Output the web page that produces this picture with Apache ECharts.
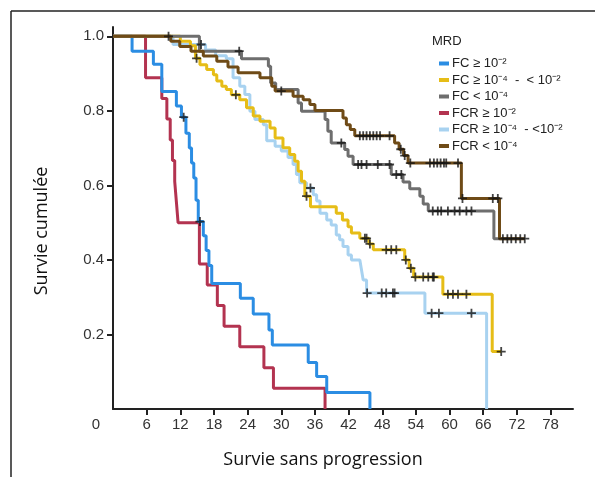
<!DOCTYPE html>
<html><head><meta charset="utf-8">
<script src="https://cdn.jsdelivr.net/npm/echarts@6/dist/echarts.min.js"></script>
<style>html,body{margin:0;padding:0;background:#fff}#c{width:595px;height:477px}</style>
</head><body><div id="c"></div>
<script>
// ---- axis ticks ----
const xTickValues = [0, 6, 12, 18, 24, 30, 36, 42, 48, 54, 60, 66, 72, 78];
const yTickValues = [0.2, 0.4, 0.6, 0.8, 1.0];

// ---- series names ----
const nameFcHigh = 'FC ≥ 10⁻²';
const nameFcMid = 'FC ≥ 10⁻⁴  -  < 10⁻²';
const nameFcLow = 'FC < 10⁻⁴';
const nameFcrHigh = 'FCR ≥ 10⁻²';
const nameFcrMid = 'FCR ≥ 10⁻⁴  - <10⁻²';
const nameFcrLow = 'FCR < 10⁻⁴';

// ---- Kaplan-Meier steps (time in months, cumulative survival) ----
const fcHighT = [0, 3.4, 7.2, 8.7, 11.3, 12.2, 13.0, 13.6, 14.0, 14.4, 14.8, 15.2, 16.1, 16.6, 17.1, 17.6, 22.7, 25.0, 27.8, 28.4, 34.8, 36.3, 38.1, 45.8];
const fcHighS = [1, 0.960, 0.925, 0.852, 0.813, 0.783, 0.740, 0.700, 0.660, 0.620, 0.560, 0.503, 0.465, 0.425, 0.385, 0.337, 0.297, 0.255, 0.212, 0.172, 0.125, 0.087, 0.044, 0];
const fcHighCensT = [12.6, 15.5];
const fcHighCensS = [0.783, 0.503];

const fcMidT = [0, 12.0, 13.8, 14.7, 15.5, 16.7, 17.9, 18.5, 19.4, 20.2, 21.1, 22.6, 23.8, 25.0, 26.2, 28.0, 28.9, 30.3, 31.5, 32.4, 33.0, 33.6, 34.2, 35.2, 39.8, 40.9, 41.9, 42.5, 44.0, 45.6, 46.4, 52.0, 52.8, 53.6, 58.8, 67.6, 69.2];
const fcMidS = [1, 0.987, 0.975, 0.941, 0.924, 0.911, 0.897, 0.880, 0.866, 0.857, 0.843, 0.830, 0.808, 0.786, 0.772, 0.754, 0.727, 0.701, 0.683, 0.665, 0.638, 0.611, 0.571, 0.543, 0.525, 0.507, 0.489, 0.472, 0.458, 0.443, 0.427, 0.400, 0.378, 0.354, 0.308, 0.154, 0.154];
const fcMidCensT = [14.9, 21.9, 34.5, 44.9, 45.2, 45.8, 48.7, 49.6, 50.5, 52.2, 53.1, 53.9, 55.3, 56.2, 57.0, 57.2, 59.7, 60.6, 61.5, 63.0, 69.2];
const fcMidCensS = [0.941, 0.843, 0.571, 0.458, 0.458, 0.443, 0.427, 0.427, 0.427, 0.400, 0.378, 0.354, 0.354, 0.354, 0.354, 0.354, 0.308, 0.308, 0.308, 0.308, 0.154];

const fcLowT = [0, 15.4, 22.9, 27.7, 28.1, 29.0, 33.0, 33.6, 37.8, 38.3, 38.9, 41.3, 41.9, 42.8, 49.6, 51.7, 52.9, 54.7, 55.3, 56.2, 67.9, 72.5];
const fcLowS = [1, 0.960, 0.940, 0.920, 0.875, 0.857, 0.821, 0.799, 0.777, 0.745, 0.714, 0.696, 0.678, 0.656, 0.629, 0.609, 0.591, 0.571, 0.550, 0.531, 0.457, 0.457];
const fcLowCensT = [22.5, 40.7, 43.7, 44.3, 45.2, 47.2, 49.3, 50.5, 51.4, 57.0, 57.9, 58.5, 59.7, 60.9, 61.8, 63.0, 63.9];
const fcLowCensS = [0.960, 0.714, 0.656, 0.656, 0.656, 0.656, 0.656, 0.629, 0.629, 0.531, 0.531, 0.531, 0.531, 0.531, 0.531, 0.531, 0.531];

const fcrHighT = [0, 5.8, 8.7, 9.6, 10.2, 10.6, 11.0, 11.3, 11.6, 15.4, 16.8, 18.6, 19.8, 22.6, 26.9, 28.6, 37.8];
const fcrHighS = [1, 0.889, 0.833, 0.778, 0.722, 0.667, 0.611, 0.556, 0.500, 0.389, 0.333, 0.278, 0.222, 0.167, 0.111, 0.056, 0];

const fcrMidT = [0, 10.7, 16.5, 18.3, 20.2, 21.4, 22.6, 23.5, 24.4, 25.3, 26.8, 27.4, 28.9, 30.0, 31.2, 32.1, 32.7, 33.3, 34.5, 35.7, 36.3, 36.9, 38.1, 38.9, 39.8, 40.4, 41.0, 41.9, 42.5, 44.0, 44.3, 44.6, 45.2, 55.6, 66.6];
const fcrMidS = [1, 0.978, 0.963, 0.948, 0.940, 0.889, 0.866, 0.844, 0.799, 0.777, 0.763, 0.720, 0.705, 0.692, 0.675, 0.656, 0.629, 0.607, 0.593, 0.575, 0.558, 0.525, 0.507, 0.494, 0.467, 0.454, 0.436, 0.413, 0.400, 0.395, 0.373, 0.346, 0.311, 0.257, 0];
const fcrMidCensT = [15.7, 35.2, 45.3, 47.9, 48.7, 49.9, 50.2, 56.8, 58.1, 63.9];
const fcrMidCensS = [0.978, 0.593, 0.311, 0.311, 0.311, 0.311, 0.311, 0.257, 0.257, 0.257];

const fcrLowT = [0, 10.3, 11.9, 13.9, 16.1, 18.5, 20.5, 22.3, 26.2, 28.3, 28.9, 32.1, 33.9, 35.1, 36.0, 41.0, 41.6, 42.3, 43.1, 50.2, 51.0, 51.8, 52.6, 62.1, 68.9, 73.4];
const fcrLowS = [1, 0.987, 0.973, 0.960, 0.947, 0.933, 0.918, 0.902, 0.889, 0.866, 0.853, 0.839, 0.830, 0.817, 0.801, 0.781, 0.763, 0.750, 0.733, 0.714, 0.697, 0.680, 0.660, 0.565, 0.457, 0.457];
const fcrLowCensT = [9.9, 30.0, 44.0, 44.6, 45.2, 45.8, 46.4, 47.0, 47.6, 49.3, 51.3, 52.0, 53.0, 56.5, 57.2, 57.8, 58.4, 59.0, 59.4, 61.5, 62.3, 67.7, 68.6, 69.5, 70.3, 71.0, 71.8, 72.6, 73.4];
const fcrLowCensS = [1.0, 0.853, 0.733, 0.733, 0.733, 0.733, 0.733, 0.733, 0.733, 0.733, 0.697, 0.680, 0.660, 0.660, 0.660, 0.660, 0.660, 0.660, 0.660, 0.660, 0.565, 0.565, 0.565, 0.457, 0.457, 0.457, 0.457, 0.457, 0.457];

// ---- colours ----
const colBlue = '#2b8de3';
const colYellow = '#e6bd17';
const colGray = '#6e6e6e';
const colRed = '#b33350';
const colLightBlue = '#a8d2f0';
const colBrown = '#6f4b17';

const zip = (t, s) => t.map((v, i) => [v, s[i]]);
const plusPath = 'path://M4,0H6V4H10V6H6V10H4V6H0V4H4Z';

function kmLine(name, t, s, color, z) {
  return { type: 'line', name, data: zip(t, s), step: 'end', symbol: 'none', color,
    lineStyle: { color, width: 3 }, z, silent: true, animation: false };
}
function censors(name, t, s) {
  return { type: 'scatter', name, data: zip(t, s), symbol: plusPath, symbolSize: 9,
    itemStyle: { color: '#151515' }, z: 20, silent: true, animation: false };
}

const labelFont = 'Liberation Sans, Arial, sans-serif';
const chart = echarts.init(document.getElementById('c'), null, { renderer: 'canvas' });
chart.setOption({
  backgroundColor: '#fff',
  animation: false,
  grid: { left: 113, right: 22, top: 27, bottom: 68, containLabel: false, outerBoundsMode: 'none' },
  xAxis: {
    type: 'value', min: 0, max: 82,
    axisLine: { show: true, lineStyle: { color: '#222', width: 2 } },
    axisTick: { show: true, customValues: xTickValues.filter(v => v > 0), length: 6, lineStyle: { color: '#222', width: 2 } },
    axisLabel: {
      customValues: xTickValues, margin: 8, color: '#333', fontSize: 15, fontFamily: labelFont,
      formatter: v => v === 0 ? '{o|0}' : String(v),
      rich: { o: { padding: [0, 34, 0, 0], color: '#333', fontSize: 15, fontFamily: labelFont } }
    },
    splitLine: { show: false }
  },
  yAxis: {
    type: 'value', min: 0, max: 1.025,
    axisLine: { show: true, lineStyle: { color: '#222', width: 2 } },
    axisTick: { show: true, customValues: yTickValues, length: 6, lineStyle: { color: '#222', width: 2 } },
    axisLabel: { customValues: yTickValues, margin: 9, color: '#333', fontSize: 15, fontFamily: labelFont,
      formatter: v => v.toFixed(1) },
    splitLine: { show: false }
  },
  legend: {
    data: [nameFcHigh, nameFcMid, nameFcLow, nameFcrHigh, nameFcrMid, nameFcrLow],
    orient: 'vertical', left: 434, top: 52, itemWidth: 10, itemHeight: 4, itemGap: 3.5,
    icon: 'rect', selectedMode: false,
    textStyle: { color: '#222', fontSize: 13, fontFamily: labelFont, padding: [0, 0, 0, -2] }
  },
  graphic: [
    { type: 'text', left: 432, top: 35, style: { text: 'MRD', fontSize: 13, fill: '#222', fontFamily: labelFont } },
    { type: 'text', x: 323, y: 460, style: { text: 'Survie sans progression', fontSize: 18, fill: '#111',
        fontFamily: 'Open Sans, Noto Sans, sans-serif', align: 'center', verticalAlign: 'middle' } },
    { type: 'text', x: 42, y: 231, rotation: Math.PI / 2, style: { text: 'Survie cumulée', fontSize: 18, fill: '#111',
        fontFamily: 'Open Sans, Noto Sans, sans-serif', align: 'center', verticalAlign: 'middle' } },
    { type: 'line', shape: { x1: 11, y1: 11, x2: 595, y2: 11 }, style: { stroke: '#222', lineWidth: 1.5 } },
    { type: 'line', shape: { x1: 11, y1: 11, x2: 11, y2: 477 }, style: { stroke: '#222', lineWidth: 1.5 } }
  ],
  series: [
    kmLine(nameFcrHigh, fcrHighT, fcrHighS, colRed, 2),
    kmLine(nameFcHigh, fcHighT, fcHighS, colBlue, 3),
    kmLine(nameFcrMid, fcrMidT, fcrMidS, colLightBlue, 4),
    kmLine(nameFcMid, fcMidT, fcMidS, colYellow, 5),
    kmLine(nameFcLow, fcLowT, fcLowS, colGray, 6),
    kmLine(nameFcrLow, fcrLowT, fcrLowS, colBrown, 7),
    censors('cens1', fcHighCensT, fcHighCensS),
    censors('cens2', fcMidCensT, fcMidCensS),
    censors('cens3', fcLowCensT, fcLowCensS),
    censors('cens5', fcrMidCensT, fcrMidCensS),
    censors('cens6', fcrLowCensT, fcrLowCensS)
  ]
});
</script>
</body></html>
